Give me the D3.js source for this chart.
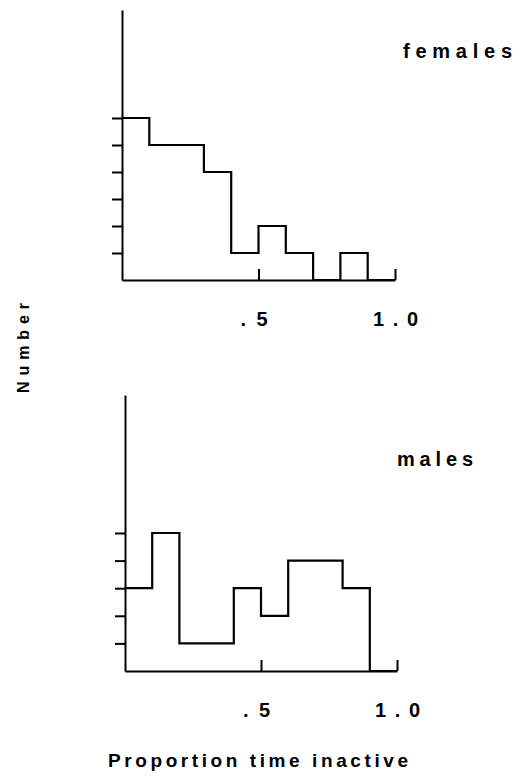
<!DOCTYPE html>
<html>
<head>
<meta charset="utf-8">
<script src="https://cdn.jsdelivr.net/npm/d3@7"></script>
<style>
  html, body { margin: 0; padding: 0; background: #fff; }
  text { font-family: "Liberation Sans", Arial, sans-serif; font-weight: bold; fill: #000; }
</style>
</head>
<body>
<div id="chart"></div>
<script>
// bin starts (proportion of time inactive), width 0.1
const BINS = [0, 0.1, 0.2, 0.3, 0.4, 0.5, 0.6, 0.7, 0.8, 0.9];
const FEMALES = [6, 5, 5, 4, 1, 2, 1, 0, 1, 0];
const MALES   = [3, 5, 1, 1, 3, 2, 4, 4, 3, 0];
const X_TICKS = [0.5, 1.0];
const X_TICK_LABELS = [".5", "1.0"];
const FEMALE_Y_TICKS = [1, 2, 3, 4, 5, 6];
const MALE_Y_TICKS = [1, 2, 3, 4, 5];

const W = 516, H = 776;
const svg = d3.select("#chart").append("svg")
  .attr("width", W).attr("height", H);

// widths / nudges of the spaced-out tick labels (".5" sits a bit left of its tick)
const tickLen = [27, 45], tickDx = [-5, 0];

/* ── one histogram panel ── */
function panel(counts, yTicks, opt) {
  const x = d3.scaleLinear().domain([0, 1]).range([opt.left, opt.right]);
  const y = d3.scaleLinear().domain([0, 10]).range([opt.base, opt.top]);
  const g = svg.append("g");

  // y axis: tall line, short ticks to the left
  g.append("g").attr("transform", `translate(${opt.left},0)`)
    .call(d3.axisLeft(y).tickValues(yTicks).tickSizeInner(10).tickSizeOuter(0).tickFormat(""))
    .call(ax => ax.selectAll("path,line").attr("stroke", "#000").attr("stroke-width", 2));

  // x axis: ticks pointing up, labels well below
  g.append("g").attr("transform", `translate(0,${opt.base})`)
    .call(d3.axisBottom(x).tickValues(X_TICKS).tickSizeInner(-11).tickSizeOuter(0)
      .tickPadding(32).tickFormat((d, i) => X_TICK_LABELS[i]))
    .call(ax => ax.selectAll("path,line").attr("stroke", "#000").attr("stroke-width", 2))
    .call(ax => ax.selectAll("text")
      .attr("font-size", 20).attr("fill", "#000")
      .attr("font-family", "Liberation Sans, Arial, sans-serif")
      .attr("dx", (d, i) => tickDx[i])
      .attr("textLength", (d, i) => tickLen[i]).attr("lengthAdjust", "spacing"));

  // step outline of the histogram
  const pts = BINS.map((b, i) => [b, counts[i]]).concat([[1, 0]]);
  g.append("path")
    .datum(pts)
    .attr("fill", "none").attr("stroke", "#000").attr("stroke-width", 2.2)
    .attr("d", d3.line().x(d => x(d[0])).y(d => y(d[1])).curve(d3.curveStepAfter));

  g.append("text").attr("x", opt.labelX).attr("y", opt.labelY)
    .attr("font-size", 20)
    .attr("textLength", opt.labelLen).attr("lengthAdjust", "spacing")
    .text(opt.label);
}

panel(FEMALES, FEMALE_Y_TICKS, {
  left: 122, right: 395, base: 280, top: 10,
  label: "females", labelX: 403, labelY: 58, labelLen: 109
});
panel(MALES, MALE_Y_TICKS, {
  left: 125, right: 397, base: 671, top: 395,
  label: "males", labelX: 397, labelY: 466, labelLen: 76
});

/* ── shared axis titles ── */
svg.append("text")
  .attr("transform", "translate(29,393) rotate(-90)")
  .attr("font-size", 16)
  .attr("textLength", 90).attr("lengthAdjust", "spacing")
  .text("Number");

svg.append("text")
  .attr("x", 108).attr("y", 767)
  .attr("font-size", 19)
  .attr("textLength", 300).attr("lengthAdjust", "spacing")
  .text("Proportion time inactive");
</script>
</body>
</html>
